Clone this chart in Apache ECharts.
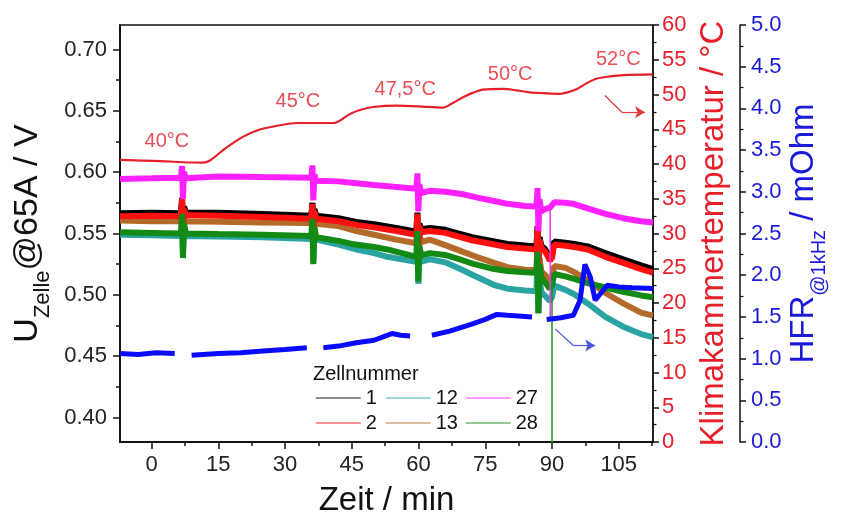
<!DOCTYPE html>
<html>
<head>
<meta charset="utf-8">
<script src="https://cdn.jsdelivr.net/npm/echarts@6/dist/echarts.min.js"></script>
<style>html,body{margin:0;padding:0;background:#fff}#c{width:842px;height:523px}</style>
</head>
<body>
<div id="c"></div>
<script>
// ---- tick labels ----
const xTickVals = [0, 15, 30, 45, 60, 75, 90, 105];
const xMinorVals = [7.5, 22.5, 37.5, 52.5, 67.5, 82.5, 97.5, 112.5];
const uTickVals = [0.40, 0.45, 0.50, 0.55, 0.60, 0.65, 0.70];
const uMinorVals = [0.425, 0.475, 0.525, 0.575, 0.625, 0.675];
const legendCol1 = ['1', '2'];
const legendCol2 = ['12', '13'];
const legendCol3 = ['27', '28'];

// ---- cell voltages [time/min, U/V] ----
const cell1 = [[-7.1,0.5665],[0,0.567],[6.6,0.5665],[6.85,0.579],[7.05,0.555],[7.3,0.572],[7.7,0.567],[15,0.567],[25,0.566],[35.9,0.5645],[36.15,0.575],[36.35,0.554],[36.6,0.570],[37,0.5645],[42,0.5625],[46,0.5595],[50,0.5575],[55,0.5545],[59.5,0.5515],[59.75,0.567],[59.95,0.540],[60.2,0.558],[60.6,0.5535],[62.5,0.5545],[66,0.553],[72,0.547],[80,0.5415],[86.5,0.5395],[86.75,0.556],[86.95,0.527],[87.2,0.547],[87.6,0.540],[88.5,0.537],[89.5,0.530],[90,0.532],[90.5,0.5435],[93,0.5425],[95,0.5415],[98,0.5395],[102,0.534],[106,0.529],[110,0.524],[112.7,0.521]];
const cell2 = [[-7.1,0.564],[0,0.5645],[6.6,0.564],[6.85,0.578],[7.05,0.553],[7.3,0.570],[7.7,0.565],[15,0.5645],[25,0.5635],[35.9,0.562],[36.15,0.574],[36.35,0.552],[36.6,0.568],[37,0.562],[42,0.560],[46,0.557],[50,0.555],[55,0.552],[59.5,0.549],[59.75,0.566],[59.95,0.538],[60.2,0.556],[60.6,0.551],[62.5,0.552],[66,0.5505],[72,0.5445],[80,0.539],[86.5,0.537],[86.75,0.555],[86.95,0.525],[87.2,0.545],[87.6,0.538],[88.5,0.535],[89.5,0.528],[90,0.530],[90.5,0.541],[93,0.540],[95,0.539],[98,0.537],[102,0.531],[106,0.526],[110,0.521],[112.7,0.518]];
const cell12 = [[-7.1,0.549],[0,0.5485],[6.6,0.548],[6.85,0.560],[7.05,0.533],[7.3,0.554],[7.7,0.548],[15,0.5475],[25,0.547],[35.9,0.5455],[36.15,0.556],[36.35,0.527],[36.6,0.550],[37,0.545],[42,0.541],[46,0.537],[50,0.534],[53,0.531],[59.5,0.527],[59.75,0.545],[59.95,0.509],[60.2,0.535],[60.6,0.527],[62.5,0.529],[66,0.5265],[70,0.520],[72.3,0.516],[77,0.508],[80,0.505],[84,0.5035],[86.5,0.503],[86.75,0.530],[86.95,0.485],[87.2,0.515],[87.6,0.502],[88.5,0.499],[89.5,0.495],[90,0.498],[90.5,0.5075],[93,0.504],[95,0.5005],[98,0.493],[102,0.482],[106,0.474],[110,0.468],[112.7,0.4655]];
const cell13 = [[-7.1,0.5605],[0,0.560],[6.6,0.560],[6.85,0.575],[7.05,0.550],[7.3,0.566],[7.7,0.560],[15,0.5595],[25,0.559],[35.9,0.5585],[36.15,0.572],[36.35,0.548],[36.6,0.564],[37,0.558],[42,0.556],[46,0.552],[50,0.549],[55,0.545],[59.5,0.542],[59.75,0.560],[59.95,0.530],[60.2,0.550],[60.6,0.543],[62.5,0.545],[66,0.5405],[70,0.535],[73,0.531],[77,0.526],[80,0.5225],[84,0.5205],[86.5,0.520],[86.75,0.545],[86.95,0.505],[87.2,0.530],[87.6,0.519],[88.5,0.516],[89.5,0.512],[90,0.514],[90.5,0.5235],[93,0.522],[95,0.5185],[98,0.512],[102,0.5015],[106,0.493],[110,0.4855],[112.7,0.483]];
const cell27 = [[-7.1,0.5945],[0,0.595],[6.6,0.5955],[6.85,0.605],[7.05,0.578],[7.3,0.600],[7.7,0.595],[15,0.5965],[25,0.596],[35.9,0.5955],[36.15,0.6055],[36.35,0.577],[36.6,0.598],[37,0.593],[42,0.5925],[46,0.591],[50,0.5895],[55,0.588],[59.5,0.5865],[59.75,0.599],[59.95,0.568],[60.2,0.590],[60.6,0.583],[62.5,0.5848],[66,0.584],[70,0.582],[73,0.5795],[77,0.5765],[80,0.5742],[84,0.5725],[86.5,0.572],[86.75,0.587],[86.95,0.552],[87.2,0.578],[87.6,0.568],[88.5,0.570],[89.5,0.571],[90,0.573],[90.5,0.5755],[93,0.575],[95,0.574],[98,0.5705],[102,0.566],[106,0.5625],[110,0.560],[112.7,0.559]];
const cell28 = [[-7.1,0.551],[0,0.5505],[6.6,0.550],[6.85,0.566],[7.05,0.530],[7.3,0.558],[7.7,0.550],[15,0.5495],[25,0.549],[35.9,0.548],[36.15,0.562],[36.35,0.525],[36.6,0.555],[37,0.547],[42,0.544],[45,0.5415],[50,0.539],[53,0.537],[59.5,0.531],[59.75,0.552],[59.95,0.511],[60.2,0.540],[60.6,0.532],[62.5,0.534],[66,0.5325],[70,0.528],[72.3,0.5253],[77,0.521],[80,0.5195],[84,0.5185],[86.5,0.518],[86.75,0.535],[86.95,0.485],[87.2,0.525],[87.6,0.514],[88.5,0.510],[89.5,0.505],[90,0.508],[90.5,0.517],[93,0.515],[95,0.513],[98,0.5095],[102,0.506],[106,0.5025],[110,0.4995],[112.7,0.498]];
const cell27Drop = [[89.6,0.573],[89.6,0.480]];
const cell28Drop = [[90.0,0.512],[90.0,0.300]];

// ---- climate chamber temperature [time/min, T/°C] ----
const chamberTemp = [[-7.1,40.6],[2,40.4],[11.5,40.2],[13.1,40.5],[16.5,42.2],[20.5,43.9],[24,44.9],[28.2,45.5],[32.7,45.9],[37,45.9],[41,45.9],[44.6,47.2],[47,47.8],[49.8,48.2],[55.1,48.4],[60,48.3],[65.5,48.1],[67.5,48.7],[70,49.6],[72,50.2],[74.5,50.7],[79,50.8],[82,50.6],[85.1,50.3],[88,50.2],[91.8,50.1],[93.5,50.3],[95.6,50.8],[98,51.7],[100.1,52.3],[103,52.6],[106,52.8],[112.7,52.9]];
const tempLabels = [['40°C',3.45,43.24],['45°C',32.9,48.99],['47,5°C',57.0,50.71],['50°C',80.6,52.87],['52°C',104.9,55.03]];

// ---- HFR @1kHz [time/min, mOhm]; null = gap ----
const hfr = [[-7.1,1.06],[-3,1.05],[1,1.07],[5.2,1.06],[7,null],[9.0,1.04],[15,1.06],[20,1.07],[25,1.09],[30,1.11],[34.9,1.13],[36.5,null],[38.6,1.13],[42,1.15],[46,1.19],[50,1.22],[54,1.30],[56,1.28],[58.1,1.27],[60.5,null],[63,1.28],[67,1.33],[70,1.38],[72.3,1.42],[75,1.47],[77.6,1.53],[80,1.52],[85.5,1.50],[87,null],[88.8,1.47],[92,1.49],[94.8,1.52],[96.3,1.70],[97.4,2.13],[98.6,1.98],[99.7,1.70],[101.5,1.82],[102.4,1.88],[105,1.86],[108,1.85],[112.7,1.84]];

// ---- annotation arrows ----
const tempArrow = [[101.9,49.85],[105.7,47.45]];
const tempArrowHead = [[105.7,47.45],[110.9,47.45]];
const hfrArrow = [[90.7,1.357],[94.8,1.157]];
const hfrArrowHead = [[94.8,1.157],[99.7,1.157]];

const FONT = '"Liberation Sans", Arial, sans-serif';
const RED = '#e6202a';
const BLUE = '#1a1ad8';
const AX = '#111';
const axLine = { show: true, onZero: false, lineStyle: { color: AX, width: 1.5 } };

function cellSeries(name, data, color) {
  return { type: 'line', name, data, xAxisIndex: 0, yAxisIndex: 0, symbol: 'none', showSymbol: false,
    lineStyle: { color, width: 6 }, itemStyle: { color }, animation: false };
}
function arrowSeries(yIdx, line, head, color) {
  return { type: 'line', data: line, xAxisIndex: 0, yAxisIndex: yIdx, symbol: 'none',
    lineStyle: { color, width: 1.2 }, animation: false, z: 5,
    markLine: { silent: true, animation: false, symbol: ['none', 'arrow'], symbolSize: [9, 10],
      label: { show: false }, lineStyle: { color, width: 1.2, type: 'solid' },
      data: [[{ coord: head[0] }, { coord: head[1] }]] } };
}
function legendCol(data, left) {
  return { data, orient: 'vertical', left, top: 388, padding: 0, itemWidth: 45, itemHeight: 20,
    itemGap: 5, selectedMode: false, lineStyle: { width: 1.5, opacity: 0.6 },
    itemStyle: { opacity: 0, borderWidth: 0 },
    textStyle: { fontSize: 20, color: '#111', fontFamily: FONT } };
}

const chart = echarts.init(document.getElementById('c'), null, { renderer: 'canvas' });
chart.setOption({
  animation: false,
  backgroundColor: '#fff',
  textStyle: { fontFamily: FONT },
  title: { text: 'Zellnummer', left: 313, top: 364, padding: 0,
    textStyle: { fontSize: 20, fontWeight: 'normal', color: '#111', fontFamily: FONT } },
  legend: [legendCol(legendCol1, 315), legendCol(legendCol2, 385), legendCol(legendCol3, 465)],
  grid: { left: 120, right: 189, top: 25, bottom: 81, containLabel: false, outerBoundsMode: 'none',
    show: true, borderColor: AX, borderWidth: 1.5, backgroundColor: 'transparent' },
  xAxis: [
    { type: 'value', min: -7.1, max: 112.7, position: 'bottom', axisLine: axLine,
      axisTick: { show: true, customValues: xTickVals, length: 7, lineStyle: { color: AX, width: 1.5 } },
      axisLabel: { customValues: xTickVals, fontSize: 22, color: '#222', margin: 12, fontFamily: FONT },
      splitLine: { show: false },
      name: 'Zeit / min', nameLocation: 'middle', nameGap: 42, nameMoveOverlap: false,
      nameTextStyle: { fontSize: 33, color: '#111', fontFamily: FONT } },
    { type: 'value', min: -7.1, max: 112.7, position: 'bottom', axisLine: axLine,
      axisTick: { show: true, customValues: xMinorVals, length: 4, lineStyle: { color: AX, width: 1.5 } },
      axisLabel: { show: false }, splitLine: { show: false } }
  ],
  yAxis: [
    { type: 'value', position: 'left', min: 0.38, max: 0.72, axisLine: axLine,
      axisTick: { show: true, customValues: uTickVals, length: 7, lineStyle: { color: AX, width: 1.5 } },
      axisLabel: { customValues: uTickVals, formatter: v => v.toFixed(2), fontSize: 22, color: '#222', margin: 13, fontFamily: FONT },
      splitLine: { show: false },
      name: '{m|U}{s|Zelle}{m|@65A / V}', nameLocation: 'middle', nameRotate: 90, nameGap: 66, nameMoveOverlap: false,
      nameTextStyle: { color: '#111', fontFamily: FONT, rich: {
        m: { fontSize: 34, color: '#111', fontFamily: FONT, verticalAlign: 'bottom', lineHeight: 34, padding: [0, 0, 9, 0] },
        s: { fontSize: 22, color: '#111', fontFamily: FONT, verticalAlign: 'bottom', lineHeight: 22 } } } },
    { type: 'value', position: 'left', min: 0.38, max: 0.72, axisLine: axLine,
      axisTick: { show: true, customValues: uMinorVals, length: 4, lineStyle: { color: AX, width: 1.5 } },
      axisLabel: { show: false }, splitLine: { show: false } },
    { type: 'value', position: 'right', min: 0, max: 60, interval: 5, axisLine: axLine,
      axisTick: { show: true, length: 6, lineStyle: { color: AX, width: 1.5 } },
      minorTick: { show: true, splitNumber: 2, length: 3.5, lineStyle: { color: AX, width: 1.2 } },
      axisLabel: { fontSize: 22, color: RED, margin: 9, fontFamily: FONT },
      splitLine: { show: false }, minorSplitLine: { show: false },
      name: 'Klimakammertemperatur / °C', nameLocation: 'middle', nameRotate: 90, nameGap: 44, nameMoveOverlap: false,
      nameTextStyle: { fontSize: 33, color: RED, fontFamily: FONT } },
    { type: 'value', position: 'right', offset: 87, min: 0, max: 5, interval: 0.5, axisLine: axLine,
      axisTick: { show: true, length: 6, lineStyle: { color: AX, width: 1.5 } },
      minorTick: { show: true, splitNumber: 2, length: 3.5, lineStyle: { color: AX, width: 1.2 } },
      axisLabel: { fontSize: 22, color: BLUE, margin: 11, formatter: v => v.toFixed(1), fontFamily: FONT },
      splitLine: { show: false }, minorSplitLine: { show: false },
      name: '{m|HFR}{s|@1kHz}{m| / mOhm}', nameLocation: 'middle', nameRotate: 90, nameGap: 56, nameMoveOverlap: false,
      nameTextStyle: { color: BLUE, fontFamily: FONT, rich: {
        m: { fontSize: 33, color: BLUE, fontFamily: FONT, verticalAlign: 'bottom', lineHeight: 33, padding: [0, 0, 9, 0] },
        s: { fontSize: 20, color: BLUE, fontFamily: FONT, verticalAlign: 'bottom', lineHeight: 20 } } } }
  ],
  series: [
    cellSeries('1', cell1, '#000000'),
    cellSeries('12', cell12, '#2aa3a3'),
    cellSeries('13', cell13, '#b46a28'),
    cellSeries('2', cell2, '#ff1010'),
    cellSeries('28', cell28, '#138a13'),
    cellSeries('27', cell27, '#ff20ff'),
    { type: 'line', data: cell28Drop, yAxisIndex: 0, symbol: 'none', lineStyle: { color: '#1a9a1a', width: 1.5 }, animation: false },
    { type: 'line', data: cell27Drop, yAxisIndex: 0, symbol: 'none', lineStyle: { color: '#ff30ff', width: 1.5 }, animation: false },
    { type: 'line', name: 'HFR', data: hfr, yAxisIndex: 3, symbol: 'none', connectNulls: false,
      lineStyle: { color: '#0a0aff', width: 5 }, animation: false },
    { type: 'line', name: 'T', data: chamberTemp, yAxisIndex: 2, symbol: 'none', smooth: 0.3,
      lineStyle: { color: RED, width: 2.2 }, animation: false, z: 4 },
    { type: 'scatter', yAxisIndex: 2, symbolSize: 1, itemStyle: { color: 'rgba(0,0,0,0)' }, animation: false, z: 6,
      data: tempLabels.map(d => ({ name: d[0], value: [d[1], d[2]] })),
      label: { show: true, position: 'inside', formatter: '{b}', fontSize: 20, color: RED, fontFamily: FONT } },
    arrowSeries(2, tempArrow, tempArrowHead, '#e03a3a'),
    arrowSeries(3, hfrArrow, hfrArrowHead, '#4a55e0')
  ]
});
</script>
</body>
</html>
